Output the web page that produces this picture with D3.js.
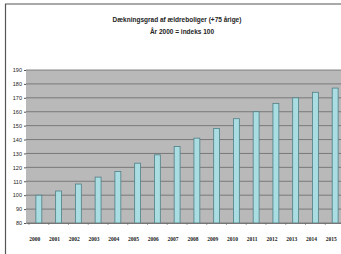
<!DOCTYPE html>
<html><head><meta charset="utf-8">
<script src="https://cdn.jsdelivr.net/npm/d3@7"></script>
<style>body{margin:0;background:#fff;overflow:hidden;} svg{display:block;}</style>
</head><body>
<script>
const years = ["2000","2001","2002","2003","2004","2005","2006","2007","2008","2009","2010","2011","2012","2013","2014","2015"];
const values = [100,103,108,113,117,123,129,135,141,148,155,160,166,170,174,177];
const yTicks = [80,90,100,110,120,130,140,150,160,170,180,190];
const titleLines = ["Dækningsgrad af ældreboliger (+75 årige)","År 2000 = indeks 100"];

const W=341,H=254;
const svg=d3.select("body").append("svg").attr("width",W).attr("height",H);
svg.append("rect").attr("width",W).attr("height",H).attr("fill","#fff");
// frame
svg.append("line").attr("x1",5).attr("x2",W).attr("y1",4).attr("y2",4).attr("stroke","#555").attr("stroke-width",1.2);
svg.append("line").attr("x1",5.5).attr("x2",5.5).attr("y1",4).attr("y2",H).attr("stroke","#555").attr("stroke-width",1.2);

const m={l:26,t:70,b:31};
const x=d3.scaleBand().domain(years).range([m.l,348]).paddingInner(0.7).paddingOuter(0.5);
const y=d3.scaleLinear().domain([80,190]).range([H-m.b,m.t]);

svg.append("rect").attr("x",m.l).attr("y",m.t).attr("width",W-m.l).attr("height",H-m.b-m.t).attr("fill","#b9b9b9");
svg.append("g").selectAll("line").data(yTicks).join("line")
  .attr("x1",m.l).attr("x2",W).attr("y1",d=>y(d)).attr("y2",d=>y(d))
  .attr("stroke","#6a6a6a").attr("stroke-width",0.8);

svg.append("g").selectAll("rect").data(years).join("rect")
  .attr("x",d=>x(d)).attr("width",x.bandwidth())
  .attr("y",(d,i)=>y(values[i])).attr("height",(d,i)=>y(80)-y(values[i]))
  .attr("fill","#a9dde2").attr("stroke","#4f7f86").attr("stroke-width",0.8);

const yAxis=svg.append("g").attr("transform",`translate(${m.l},0)`)
  .call(d3.axisLeft(y).tickValues(yTicks).tickSize(2).tickFormat(d3.format("d")));
yAxis.select(".domain").remove();
yAxis.selectAll("line").attr("stroke","#555");
yAxis.selectAll("text").attr("font-family","Liberation Sans Narrow, Liberation Sans, sans-serif").attr("font-size",5.5).attr("fill","#222").attr("x",-4);

const xAxis=svg.append("g").attr("transform",`translate(0,${H-m.b})`)
  .call(d3.axisBottom(x).tickSize(0).tickPadding(14));
xAxis.select(".domain").attr("stroke","#777");
xAxis.selectAll("text").attr("font-family","Liberation Serif, serif").attr("font-size",5.5).attr("font-weight","bold").attr("fill","#222").attr("dx",-4);
// small tick marks between bands
svg.append("g").selectAll("line").data(years).join("line")
  .attr("x1",d=>x(d)-x.step()*x.paddingInner()/2).attr("x2",d=>x(d)-x.step()*x.paddingInner()/2)
  .attr("y1",H-m.b).attr("y2",H-m.b+2).attr("stroke","#666").attr("stroke-width",0.6);

svg.append("g").selectAll("text").data(titleLines).join("text")
  .attr("x",(d,i)=>i===0?177:182).attr("y",(d,i)=>22+i*12).attr("text-anchor","middle")
  .attr("font-family","Liberation Sans Narrow, Liberation Sans, sans-serif").attr("font-size",6.5).attr("font-weight","bold").attr("fill","#222")
  .text(d=>d);
</script>
</body></html>
